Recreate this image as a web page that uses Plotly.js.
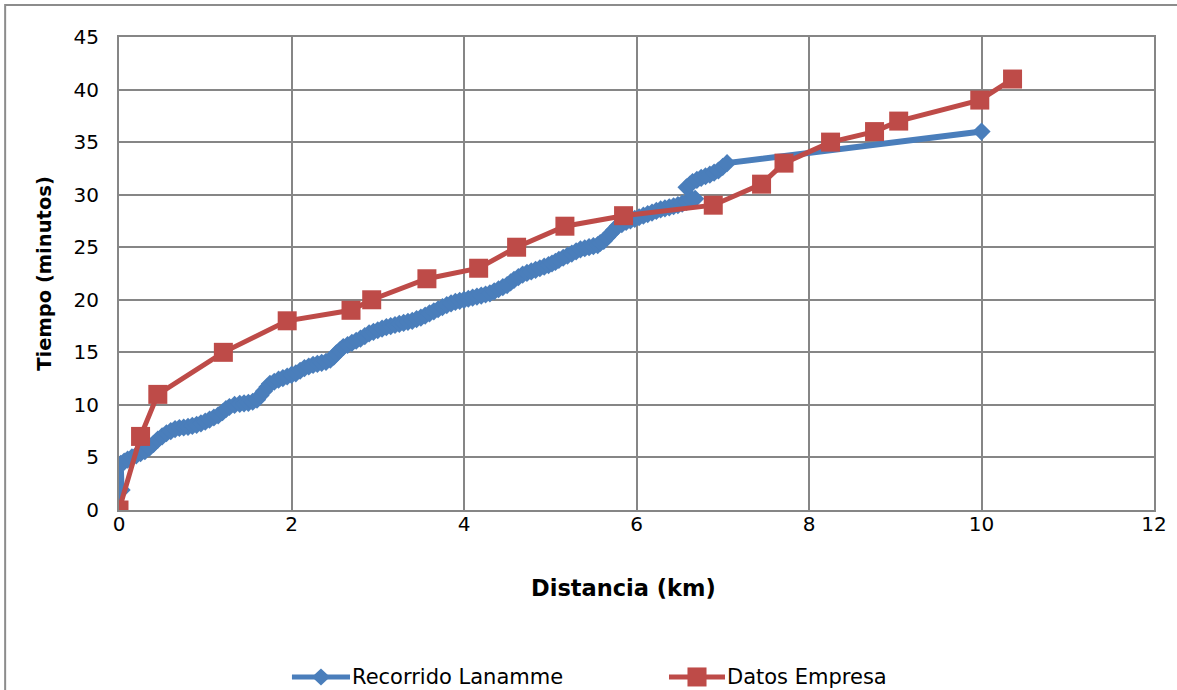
<!DOCTYPE html>
<html>
<head>
<meta charset="utf-8">
<script src="https://cdn.plot.ly/plotly-3.0.1.min.js"></script>
<style>
  html, body { margin: 0; padding: 0; background: #ffffff; overflow: hidden; }
  #chart { width: 1177px; height: 690px; }
</style>
</head>
<body>
<div id="chart"></div>
<script>
// Recorrido Lanamme: distancia (km) vs tiempo (minutos), GPS trace
const lanammeDist = [
  0.00, 0.03, 0.02, 0.06, 0.10, 0.15, 0.20, 0.25, 0.30, 0.35,
  0.40, 0.45, 0.50, 0.55, 0.60, 0.65, 0.70, 0.75, 0.80, 0.85,
  0.90, 0.95, 1.00, 1.05, 1.10, 1.15, 1.20, 1.24, 1.28, 1.34,
  1.40, 1.45, 1.50, 1.55, 1.60, 1.64, 1.68, 1.72, 1.75, 1.80,
  1.85, 1.90, 1.95, 2.00, 2.05, 2.10, 2.15, 2.20, 2.25, 2.30,
  2.35, 2.40, 2.45, 2.49, 2.52, 2.56, 2.60, 2.65, 2.70, 2.75,
  2.80, 2.85, 2.90, 2.95, 3.00, 3.05, 3.10, 3.15, 3.20, 3.25,
  3.30, 3.35, 3.40, 3.45, 3.50, 3.55, 3.60, 3.65, 3.70, 3.75,
  3.80, 3.85, 3.90, 3.95, 4.00, 4.05, 4.10, 4.15, 4.20, 4.25,
  4.30, 4.35, 4.40, 4.45, 4.50, 4.54, 4.58, 4.63, 4.68, 4.73,
  4.78, 4.83, 4.88, 4.93, 4.98, 5.02, 5.06, 5.10, 5.15, 5.20,
  5.25, 5.30, 5.35, 5.40, 5.45, 5.50, 5.55, 5.58, 5.62, 5.66,
  5.70, 5.74, 5.78, 5.83, 5.88, 5.93, 5.98, 6.03, 6.08, 6.13,
  6.18, 6.23, 6.28, 6.33, 6.38, 6.43, 6.48, 6.53, 6.58, 6.63,
  6.68, 6.58, 6.62, 6.65, 6.70, 6.75, 6.80, 6.85, 6.90, 6.95,
  7.00, 7.05, 10.00
];
const lanammeTime = [
  0.5, 1.9, 4.4, 4.6, 4.8, 5.0, 5.2, 5.4, 5.6, 5.9,
  6.3, 6.7, 7.0, 7.3, 7.5, 7.7, 7.8, 7.85, 7.9, 8.0,
  8.1, 8.25, 8.4, 8.6, 8.8, 9.0, 9.3, 9.6, 9.8, 10.0,
  10.1, 10.15, 10.2, 10.3, 10.5, 10.9, 11.3, 11.7, 12.0, 12.2,
  12.4, 12.55, 12.7, 12.85, 13.0, 13.25, 13.5, 13.65, 13.8, 13.9,
  14.0, 14.1, 14.3, 14.6, 14.9, 15.2, 15.5, 15.7, 15.9, 16.1,
  16.3, 16.55, 16.8, 16.95, 17.1, 17.25, 17.4, 17.5, 17.6, 17.7,
  17.8, 17.9, 18.0, 18.15, 18.3, 18.5, 18.7, 18.9, 19.1, 19.3,
  19.5, 19.65, 19.8, 19.9, 20.0, 20.1, 20.2, 20.3, 20.4, 20.5,
  20.6, 20.8, 21.0, 21.2, 21.4, 21.65, 21.9, 22.15, 22.4, 22.55,
  22.7, 22.85, 23.0, 23.15, 23.3, 23.45, 23.6, 23.8, 24.0, 24.2,
  24.4, 24.6, 24.8, 24.9, 25.0, 25.1, 25.2, 25.4, 25.6, 25.95,
  26.3, 26.65, 27.0, 27.2, 27.4, 27.55, 27.7, 27.85, 28.0, 28.15,
  28.3, 28.45, 28.6, 28.7, 28.8, 28.9, 29.0, 29.15, 29.3, 29.45,
  29.6, 30.7, 30.95, 31.2, 31.4, 31.6, 31.75, 31.9, 32.1, 32.3,
  32.65, 33.0, 36.0
];

// Datos Empresa
const empresaDist = [
  0.00, 0.25, 0.45, 1.21, 1.95, 2.69, 2.93, 3.57, 4.17, 4.61,
  5.17, 5.85, 6.89, 7.45, 7.71, 8.25, 8.76, 9.04, 9.98, 10.36
];
const empresaTime = [
  0, 7, 11, 15, 18, 19, 20, 22, 23, 25,
  27, 28, 29, 31, 33, 35, 36, 37, 39, 41
];

const seriesNames = ['Recorrido Lanamme', 'Datos Empresa'];
const xTitle = 'Distancia (km)';
const yTitle = 'Tiempo (minutos)';
const xTicks = [0, 2, 4, 6, 8, 10, 12];
const yTicks = [0, 5, 10, 15, 20, 25, 30, 35, 40, 45];

const FONT = '"DejaVu Sans", Verdana, sans-serif';
const GRID = '#868686';
const BLUE = '#4A7EBB';
const RED = '#BE4B48';

const traces = [
  {
    x: lanammeDist, y: lanammeTime, name: seriesNames[0],
    type: 'scatter', mode: 'lines+markers',
    line: { color: BLUE, width: 6 },
    marker: { symbol: 'diamond', size: 14, color: BLUE }
  },
  {
    x: empresaDist, y: empresaTime, name: seriesNames[1],
    type: 'scatter', mode: 'lines+markers',
    line: { color: RED, width: 5 },
    marker: { symbol: 'square', size: 19, color: RED }
  }
];

// Legend below the plot, drawn as line samples with marker glyphs and labels
const legendY = -0.353;
const legendItems = [
  { name: seriesNames[0], color: BLUE, x0: 0.1671, x1: 0.2232, symbol: 'diamond' },
  { name: seriesNames[1], color: RED,  x0: 0.5314, x1: 0.5855, symbol: 'square' }
];
const legendShapes = [];
const legendLabels = [];
legendItems.forEach(function (it) {
  const cx = (it.x0 + it.x1) / 2;
  legendShapes.push({
    type: 'line', xref: 'paper', yref: 'paper',
    x0: it.x0, x1: it.x1, y0: legendY, y1: legendY,
    line: { color: it.color, width: 5 }
  });
  if (it.symbol === 'diamond') {
    const hx = 0.0087, hy = 0.018;
    legendShapes.push({
      type: 'path', xref: 'paper', yref: 'paper',
      path: 'M ' + (cx - hx) + ' ' + legendY + ' L ' + cx + ' ' + (legendY + hy) +
            ' L ' + (cx + hx) + ' ' + legendY + ' L ' + cx + ' ' + (legendY - hy) + ' Z',
      fillcolor: it.color, line: { width: 0 }
    });
  } else {
    const hx = 0.0092, hy = 0.0201;
    legendShapes.push({
      type: 'rect', xref: 'paper', yref: 'paper',
      x0: cx - hx, x1: cx + hx, y0: legendY - hy, y1: legendY + hy,
      fillcolor: it.color, line: { width: 0 }
    });
  }
  legendLabels.push({
    xref: 'paper', yref: 'paper', x: it.x1, y: legendY,
    xanchor: 'left', yanchor: 'middle', showarrow: false,
    text: it.name, font: { family: FONT, size: 21, color: '#000000' }
  });
});

// x-axis title, placed as a centred label below the tick labels
const xTitleLabel = {
  xref: 'paper', yref: 'paper', x: 0.487, y: -0.165,
  xanchor: 'center', yanchor: 'middle', showarrow: false,
  text: '<b>' + xTitle + '</b>', font: { family: FONT, size: 22.5, color: '#000000' }
};

const layout = {
  width: 1177, height: 690,
  margin: { l: 119, r: 23, t: 37, b: 180 },
  paper_bgcolor: '#ffffff', plot_bgcolor: '#ffffff',
  font: { family: FONT, size: 20, color: '#000000' },
  showlegend: false,
  xaxis: {
    range: [0, 12], tickvals: xTicks, ticktext: xTicks.map(String),
    showgrid: true, gridcolor: GRID, gridwidth: 2,
    showline: true, linecolor: GRID, linewidth: 2, mirror: true,
    zeroline: false, ticks: '', ticklabelstandoff: -5,
    tickfont: { family: FONT, size: 20, color: '#000000' },
    automargin: false
  },
  yaxis: {
    range: [0, 45], tickvals: yTicks, ticktext: yTicks.map(String),
    showgrid: true, gridcolor: GRID, gridwidth: 2,
    showline: true, linecolor: GRID, linewidth: 2, mirror: true,
    zeroline: false, ticks: '', ticklabelstandoff: 14,
    tickfont: { family: FONT, size: 20, color: '#000000' },
    title: { text: '<b>' + yTitle + '</b>', standoff: 17,
             font: { family: FONT, size: 19.5, color: '#000000' } },
    automargin: false
  },
  shapes: [
    // outer chart frame (left and top edges)
    { type: 'path', xref: 'paper', yref: 'paper',
      path: 'M -0.110 -0.5 L -0.110 1.0677 L 1.1 1.0677',
      line: { color: '#8c8c8c', width: 2 } }
  ].concat(legendShapes),
  annotations: legendLabels.concat([xTitleLabel])
};

Plotly.newPlot('chart', traces, layout, { displayModeBar: false, staticPlot: true });
</script>
</body>
</html>
